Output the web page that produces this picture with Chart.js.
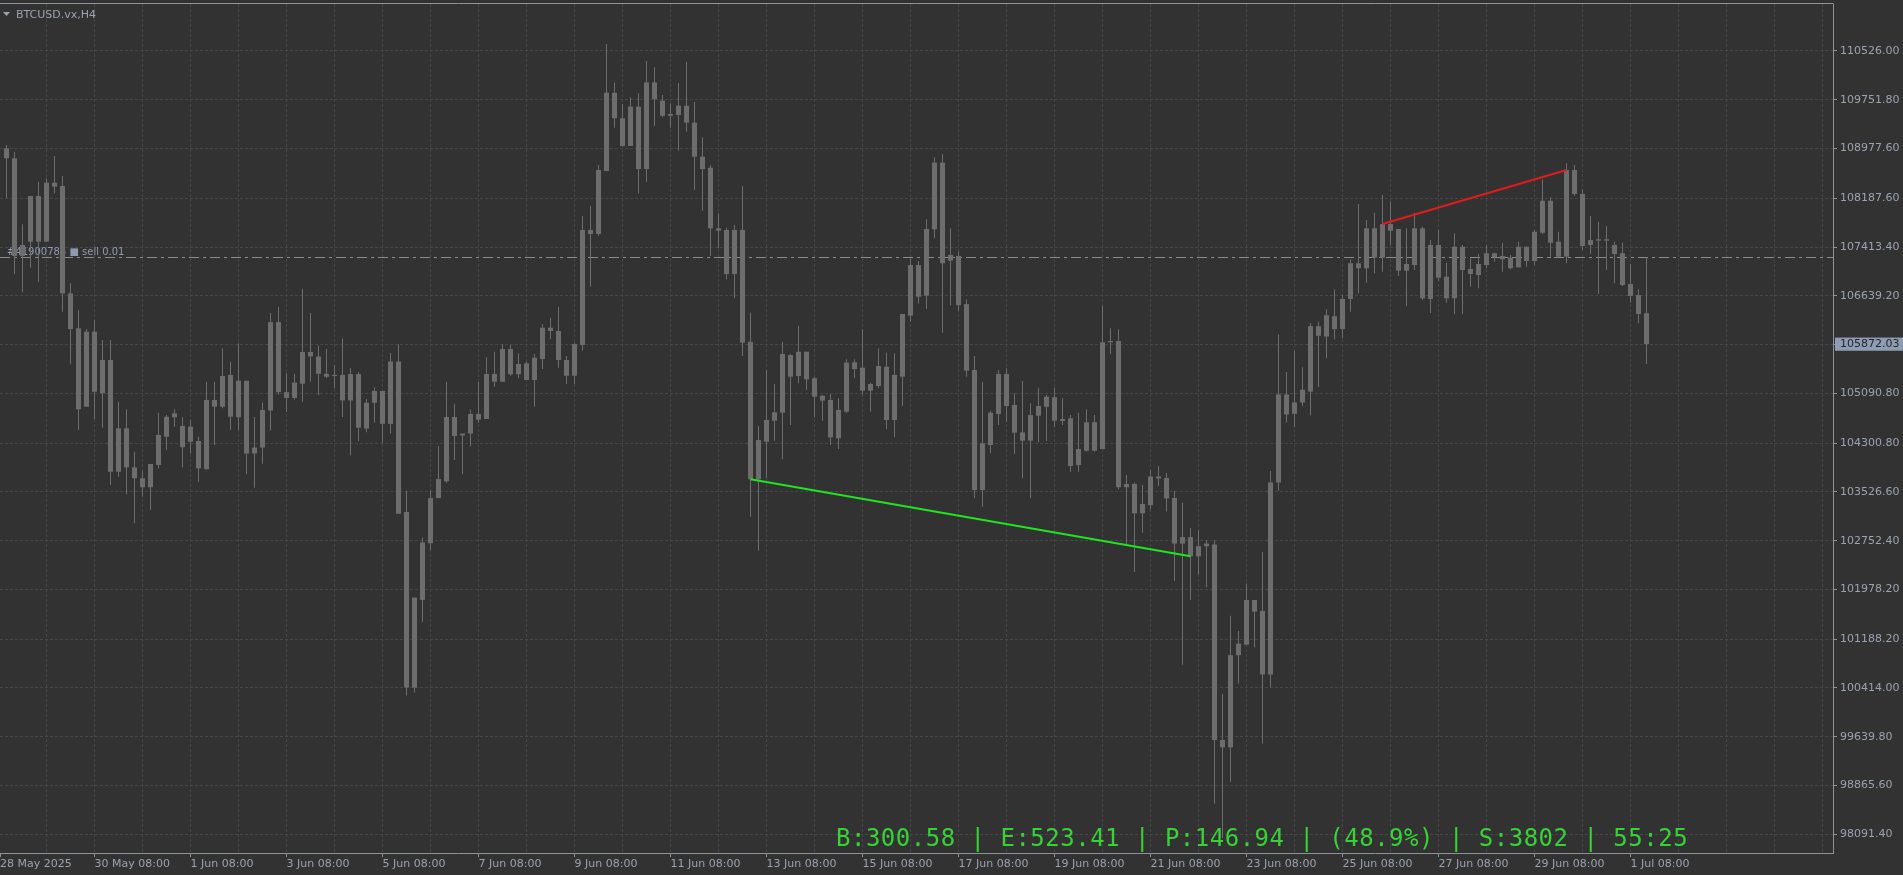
<!DOCTYPE html>
<html>
<head>
<meta charset="utf-8">
<title>BTCUSD.vx,H4</title>
<script src="https://cdn.jsdelivr.net/npm/chart.js@4.4.1/dist/chart.umd.min.js"></script>
<style>
html,body{margin:0;padding:0;background:#323232;overflow:hidden;}
canvas{display:block;}
</style>
</head>
<body>
<canvas id="chart" width="1903" height="875"></canvas>
<script>
// ---- data (BTCUSD.vx, H4 candles) ----
const open = [
108981,108823,107272,107499,108224,107499,108435,108383,106679,106124,
104879,106070,105092,105621,103847,104536,103916,103743,103600,103954,
104403,104711,104573,104324,104335,103885,104986,104879,105383,104711,
105292,104137,104231,104819,106222,105111,105019,105244,105748,105676,
105402,105367,105384,104978,105397,104533,104941,105129,104607,105597,
103209,100420,101812,102711,103428,103695,104716,104423,104453,104763,
104684,105398,105276,105794,105394,105568,105303,105637,106133,106081,
105621,105371,105858,107684,107621,108621,109864,109458,109018,109642,
108653,110027,109737,109497,109510,109658,109388,108848,108673,107711,
106986,107684,107684,105911,103727,104324,104657,104784,105700,105367,
105752,105330,105054,104986,104377,104800,105584,105498,105133,105208,
105514,104668,105356,106324,107129,106641,107695,108753,107197,107272,
106507,105462,103557,104271,104763,105398,104906,104472,104340,104736,
104879,105029,104652,104695,103954,104181,104632,104208,105902,105922,
103600,103652,103187,103316,103771,103747,103430,102706,102809,102504,
102665,102693,99588,99472,100934,101101,101811,101638,100628,103676,
105073,104766,104946,105119,106157,105993,106316,106111,106589,107156,
107077,107711,107245,107779,107700,107038,107129,107711,106589,107446,
106943,106600,107419,107065,106970,107129,107315,107219,107245,107092,
107419,107192,107641,108149,107261,107261,108637,108256,107446,107515,
107537,107446,107315,106827,106652,106362];
const high = [
109034,108927,107775,108224,108451,108505,108859,108542,106838,106414,
106113,106256,105938,105938,104959,104838,104165,103863,103970,104784,
104747,104838,104711,104668,104403,105276,105276,105806,105594,105886,
105292,104716,104946,106366,106465,105414,105402,106751,106368,105852,
105797,105536,105960,105494,105432,105002,105189,105129,105730,105870,
103543,101849,102801,103549,104260,105275,104928,104453,104836,105275,
105664,105752,105874,105858,105727,105594,105716,106187,106292,106467,
105684,105895,107907,108065,108716,110637,110027,109685,109791,109854,
110367,110267,109827,109696,110016,110356,109721,109156,108716,107949,
107721,107764,108383,106371,104573,105462,105240,105911,105711,106165,
105752,105356,105065,105076,105013,105632,105632,106108,105260,105806,
105736,105727,106351,107235,107192,107854,108838,108891,107711,107340,
106582,105684,105276,104816,105462,105489,105092,105287,104933,105181,
105065,105181,105013,104747,104784,104838,104747,106478,106124,106108,
103795,103673,103636,103874,103938,103827,103543,103358,102953,102919,
102763,102763,100321,101560,101320,102071,101811,102573,103860,106026,
105430,105765,105505,106209,106227,106427,106745,106657,107219,108097,
107843,107959,108240,108133,107700,107711,107959,107737,107526,107684,
107165,107632,107446,107235,107304,107446,107324,107483,107288,107499,
107419,107684,108489,108203,107657,108743,108716,108330,107907,107816,
107748,107499,107483,107145,106743,107251];
const low = [
108188,106986,106695,107086,106864,107499,108267,106387,105552,104509,
104879,104679,104546,103636,103767,103489,103028,103451,103239,103901,
104192,104562,103916,104138,103689,103885,104271,104854,104509,104509,
103805,103592,103974,104503,105068,104795,104989,104959,105281,105062,
105335,105171,104716,104108,104333,104472,104625,104303,104453,103179,
100293,100342,101466,102602,103428,103671,104033,103805,104248,104625,
104684,105197,105276,105371,105330,105303,104879,105478,105954,105498,
105240,105240,105768,106784,107593,108621,109308,109007,109018,108267,
108451,109335,109474,109308,108943,109245,108319,107991,107272,107394,
106902,106600,105684,103133,102593,103743,104340,104044,104589,105251,
105145,104711,104657,104271,104208,104774,105330,105065,104800,105171,
104521,104393,104890,106227,106519,106430,107553,106052,106491,106401,
105356,103425,103292,104139,104589,104641,104128,103743,103425,104314,
104335,104552,104589,103848,103847,104165,104165,104208,105711,103568,
102684,102255,102879,103247,103621,103214,102111,100783,101811,102216,
102012,98578,98032,98924,100483,101101,101060,99531,100425,103543,
104628,104552,104887,104743,105192,105649,105946,105965,106387,106679,
106848,106997,107023,107446,106954,106478,107049,106573,106367,106879,
106530,106346,106351,106784,106759,107077,107181,107023,107061,107092,
107102,107129,107621,107235,107251,107156,108229,107368,107304,106668,
107049,106838,106795,106530,106203,105557];
const close = [
108823,107272,107446,108224,107499,108435,108372,106679,106113,104838,
106070,105117,105621,103847,104536,103916,103743,103600,103970,104430,
104720,104774,104235,104562,103901,104986,104879,105367,104720,105292,
104137,104231,104827,106222,105111,105019,105262,105748,105676,105402,
105354,105384,104978,105397,104546,104941,105129,104607,105597,103179,
100420,101849,102723,103428,103731,104716,104413,104453,104763,104673,
105398,105276,105794,105394,105557,105303,105657,106133,106081,105621,
105371,105874,107684,107621,108637,109864,109458,109018,109642,108653,
110027,109764,109497,109526,109658,109388,108848,108653,107711,107673,
107684,106986,105895,103727,104351,104668,104790,105716,105356,105752,
105314,105038,104975,104393,104827,105578,105478,105133,105240,105525,
104668,105383,106351,107129,106625,107700,108753,107156,107288,106491,
105451,103557,104298,104784,105398,104890,104466,104340,104747,104890,
105038,104657,104684,103938,104208,104632,104181,105902,105922,103600,
103652,103187,103335,103771,103740,103422,102706,102809,102504,102665,
102706,99588,99472,100934,101118,101811,101627,100628,103676,105073,
104755,104946,105148,106157,106005,106331,106111,106589,107156,107077,
107711,107245,107779,107673,107038,107145,107711,106600,107446,106927,
106600,107419,107049,106986,107145,107315,107251,107272,107077,107419,
107192,107657,108149,107483,107499,108637,108256,107430,107526,107537,
107515,107304,106811,106637,106351,105872.03];

// time-axis labels and the candle index each sits on
const tickIndex  = [-1, 11, 23, 35, 47, 59, 71, 83, 95, 107, 119, 131, 143, 155, 167, 179, 191, 203];
const tickLabels = ['28 May 2025','30 May 08:00','1 Jun 08:00','3 Jun 08:00','5 Jun 08:00','7 Jun 08:00',
  '9 Jun 08:00','11 Jun 08:00','13 Jun 08:00','15 Jun 08:00','17 Jun 08:00','19 Jun 08:00',
  '21 Jun 08:00','23 Jun 08:00','25 Jun 08:00','27 Jun 08:00','29 Jun 08:00','1 Jul 08:00'];
// price-axis labels
const priceTicks = [110526.00,109751.80,108977.60,108187.60,107413.40,106639.20,105872.03,105090.80,
  104300.80,103526.60,102752.40,101978.20,101188.20,100414.00,99639.80,98865.60,98091.40];

// divergence lines (candle index, price)
const greenLineX = [93, 148];
const greenLineY = [103727, 102504];
const redLineX = [172, 195];
const redLineY = [107779, 108637];

const bidPrice = 105872.03;
const sellPrice = 107256;
const symbolTitle = 'BTCUSD.vx,H4';
const orderLabel = '#41900785 \u25A0 sell 0.01';
const statusText = 'B:300.58 | E:523.41 | P:146.94 | (48.9%) | S:3802 | 55:25';

// ---- styling / scale window ----
const BG = '#323232';
const CANDLE = '#6d6d6d';
const GRID = '#474747';
const AXIS = '#8e9399';
const TEXT = '#9aa3b0';
const xMin = -0.8125, xMax = 228.3125;
const yMin = 97794.2, yMax = 111272.1;

const idx = open.map((_, i) => i);
const wickData = idx.map(i => ({x: i, y: [low[i], high[i]]}));
const bodyData = idx.map(i => ({x: i, y: [open[i], close[i]]}));

function isLabeled(v) {
  return tickIndex.some(t => Math.abs(Math.max(t, xMin) - v) < 1e-6);
}

const decor = {
  id: 'decor',
  beforeDraw(chart) {
    const c = chart.ctx;
    c.save();
    c.fillStyle = BG;
    c.fillRect(0, 0, chart.width, chart.height);
    c.restore();
  },
  beforeDatasetsDraw(chart) {
    const c = chart.ctx, a = chart.chartArea, y = Math.round(chart.scales.y.getPixelForValue(sellPrice)) + 0.5;
    c.save();
    c.strokeStyle = '#8c8c8c';
    c.lineWidth = 1;
    c.setLineDash([10, 4, 3, 4]);
    c.beginPath(); c.moveTo(a.left, y); c.lineTo(a.right, y); c.stroke();
    c.setLineDash([]);
    c.font = '10px "DejaVu Sans"';
    c.fillStyle = '#8e9ab0';
    c.textBaseline = 'alphabetic';
    c.fillText(orderLabel, 7, y - 3);
    c.restore();
  },
  afterDraw(chart) {
    const c = chart.ctx, a = chart.chartArea;
    c.save();
    // top frame
    c.strokeStyle = AXIS; c.lineWidth = 1;
    c.beginPath(); c.moveTo(0, 3.5); c.lineTo(a.right + 0.5, 3.5); c.stroke();
    // header
    c.fillStyle = TEXT;
    c.beginPath(); c.moveTo(3, 12); c.lineTo(10, 12); c.lineTo(6.5, 16); c.closePath(); c.fill();
    c.font = '11px "DejaVu Sans"';
    c.textBaseline = 'alphabetic';
    c.fillText(symbolTitle, 16, 18);
    // status line
    c.font = '24px "DejaVu Sans Mono"';
    try { c.letterSpacing = '0.5px'; } catch (e) {}
    c.fillStyle = '#36d236';
    c.fillText(statusText, 836, 846);
    c.restore();
  }
};

Chart.defaults.font.family = '"DejaVu Sans", sans-serif';
Chart.defaults.font.size = 11;

new Chart(document.getElementById('chart'), {
  type: 'bar',
  data: {
    datasets: [
      {label: 'Wicks', data: wickData, backgroundColor: CANDLE, barThickness: 1, grouped: false,
       inflateAmount: 0, borderWidth: 0, order: 3},
      {label: 'Bodies', data: bodyData, backgroundColor: CANDLE, barThickness: 5, minBarLength: 1,
       grouped: false, inflateAmount: 0, borderWidth: 0, order: 2},
      {type: 'line', label: 'Bullish divergence', data: greenLineX.map((x, i) => ({x, y: greenLineY[i]})),
       borderColor: '#1ee61e', borderWidth: 2, pointRadius: 0, tension: 0, order: 1},
      {type: 'line', label: 'Bearish divergence', data: redLineX.map((x, i) => ({x, y: redLineY[i]})),
       borderColor: '#e01c1c', borderWidth: 2, pointRadius: 0, tension: 0, order: 1}
    ]
  },
  options: {
    responsive: false,
    animation: false,
    devicePixelRatio: 1,
    events: [],
    layout: {padding: {top: 4, left: 0, right: 0, bottom: 0}},
    plugins: {legend: {display: false}, tooltip: {enabled: false}},
    scales: {
      x: {
        type: 'linear', position: 'bottom', min: xMin, max: xMax, offset: false, bounds: 'data',
        grid: {
          offset: false, lineWidth: 1, drawTicks: true, tickLength: 4, tickBorderDash: [],
          color: ctx => (ctx.tick && ctx.tick.value <= xMin + 1e-6) ? 'rgba(0,0,0,0)' : GRID,
          tickColor: ctx => (ctx.tick && isLabeled(ctx.tick.value)) ? AXIS : 'rgba(0,0,0,0)'
        },
        border: {display: true, color: AXIS, width: 1, dash: [3, 2]},
        ticks: {
          autoSkip: false, maxRotation: 0, minRotation: 0, align: 'start', padding: 1, color: TEXT,
          font: {size: 11},
          callback: v => {
            const j = tickIndex.findIndex(t => Math.abs(Math.max(t, xMin) - v) < 1e-6);
            return j >= 0 ? tickLabels[j] : '';
          }
        },
        afterBuildTicks: s => {
          const t = [];
          for (let k = -1; k <= 227; k += 6) t.push({value: Math.max(k, xMin)});
          s.ticks = t;
        },
        afterFit: s => { s.height = 22; s.paddingLeft = 0; s.paddingRight = 0; }
      },
      y: {
        type: 'linear', position: 'right', min: yMin, max: yMax, bounds: 'data',
        grid: {lineWidth: 1, color: GRID, drawTicks: true, tickLength: 4, tickColor: AXIS, tickBorderDash: []},
        border: {display: true, color: AXIS, width: 1, dash: [3, 2]},
        ticks: {
          autoSkip: false, padding: 3, font: {size: 11},
          color: ctx => (ctx.tick && Math.abs(ctx.tick.value - bidPrice) < 1e-6) ? '#262626' : TEXT,
          showLabelBackdrop: ctx => !!(ctx.tick && Math.abs(ctx.tick.value - bidPrice) < 1e-6),
          backdropColor: '#8e9db3',
          backdropPadding: {top: 0, bottom: 0, left: 5, right: 12},
          callback: v => Number(v).toFixed(2)
        },
        afterBuildTicks: s => { s.ticks = priceTicks.map(v => ({value: v})); },
        afterFit: s => { s.width = 70; s.paddingTop = 0; s.paddingBottom = 0; }
      }
    }
  },
  plugins: [decor]
});
</script>
</body>
</html>
